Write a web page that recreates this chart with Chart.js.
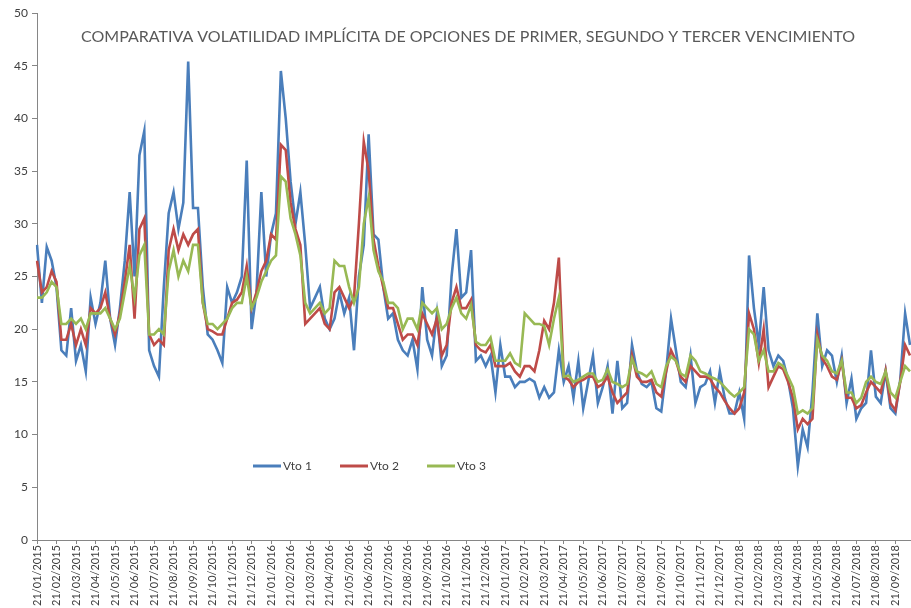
<!DOCTYPE html>
<html>
<head>
<meta charset="utf-8">
<script src="https://cdn.jsdelivr.net/npm/chart.js@4"></script>
<style>
    body { margin: 0; background: #ffffff; }
    #wrap { width: 911px; height: 608px; }
</style>
</head>
<body>
<div id="wrap"><canvas id="volChart" width="911" height="608"></canvas></div>
<script>
/*
    Implied volatility, 1st / 2nd / 3rd expiry. Four readings per month.
*/

//Months shown on the x axis (one label every 4 points)
const months = [
    "21/01/2015","21/02/2015","21/03/2015","21/04/2015","21/05/2015","21/06/2015","21/07/2015","21/08/2015","21/09/2015","21/10/2015","21/11/2015","21/12/2015",
    "21/01/2016","21/02/2016","21/03/2016","21/04/2016","21/05/2016","21/06/2016","21/07/2016","21/08/2016","21/09/2016","21/10/2016","21/11/2016","21/12/2016",
    "21/01/2017","21/02/2017","21/03/2017","21/04/2017","21/05/2017","21/06/2017","21/07/2017","21/08/2017","21/09/2017","21/10/2017","21/11/2017","21/12/2017",
    "21/01/2018","21/02/2018","21/03/2018","21/04/2018","21/05/2018","21/06/2018","21/07/2018","21/08/2018","21/09/2018"
];
const pointsPerMonth = 4;

const yTicks = [0, 5, 10, 15, 20, 25, 30, 35, 40, 45, 50];

const seriesNames = ["Vto 1", "Vto 2", "Vto 3"];
const seriesColors = ["#4A7EBB", "#BE4B48", "#98B954"];

//Vto 1
const vto1 = [
    28, 22.5, 27.8, 26.5, 24, 18, 17.5, 22, 17, 18.5, 16, 23,
    20.5, 22.5, 26.5, 21, 18.5, 22, 26.5, 33, 25, 36.5, 38.8, 18,
    16.5, 15.5, 24, 31, 33, 29.5, 32, 45.4, 31.5, 31.5, 24, 19.5,
    19, 18, 16.8, 24, 22.5, 23.5, 25, 36, 20, 23.5, 33, 25,
    29, 31, 44.5, 40, 34, 30, 33, 28, 22, 23, 24, 21,
    20, 21, 23.5, 21.5, 23, 18, 25, 28, 38.5, 29, 28.5, 24,
    21, 21.5, 19, 18, 17.5, 19, 16.2, 24, 19, 17.5, 21.5, 16.5,
    17.5, 25, 29.5, 23, 23.5, 27.5, 17, 17.5, 16.5, 17.5, 14, 18.5,
    15.5, 15.5, 14.5, 15, 15, 15.3, 15, 13.5, 14.5, 13.5, 14, 18,
    15, 16.5, 13.5, 17, 12.5, 15, 17.5, 13, 14.5, 16.5, 12, 17,
    12.5, 13, 18.5, 16, 14.8, 14.5, 15, 12.5, 12.2, 16, 21, 18,
    15, 14.5, 17.5, 13, 14.5, 14.8, 16, 13, 16, 13.5, 12, 12,
    14, 11.5, 27, 22, 18.5, 24, 18, 16.5, 17.5, 17, 15.2, 12.5,
    7, 10.5, 8.8, 14, 21.5, 16.5, 18, 17.5, 15, 17.5, 13, 15.3,
    11.5, 12.5, 13, 18, 13.6, 13, 16, 12.5, 12, 15.2, 21.5, 18.5
];

//Vto 2
const vto2 = [
    26.5, 23.5, 24, 25.5, 24.5, 19, 19, 20.5, 18.5, 20, 18.5, 22,
    21.5, 22, 23.5, 21, 19.5, 21.5, 24.5, 28, 21, 29.5, 30.5, 19.5,
    18.5, 19, 18.5, 27.5, 29.5, 27.5, 29, 28, 29, 29.5, 22.5, 20,
    19.8, 19.5, 19.5, 21, 22.5, 22.8, 23.5, 26, 22, 23.5, 25.5, 26.5,
    29, 28.5, 37.5, 37, 32, 29.5, 28, 20.5, 21, 21.5, 22, 20.5,
    20, 23.5, 24, 23, 22, 23, 30, 37.8, 35, 28.5, 26, 24,
    22, 22, 20.5, 19, 19.5, 19.5, 18.5, 21.5, 20.5, 19.5, 21, 17.5,
    18.5, 22.5, 24, 22, 22, 22.8, 18.5, 18, 17.8, 18.5, 16.5, 16.5,
    16.5, 16.8, 16, 15.5, 16.5, 16.5, 16, 18, 20.8, 20, 22.5, 26.8,
    15.5, 15.2, 14.5, 15, 15.2, 15.5, 15.5, 14.5, 14.8, 15.5, 14, 13,
    13.5, 14, 17.5, 15.5, 15, 15, 15.2, 14, 13.6, 16, 18, 17,
    15.5, 15, 16.5, 16, 15.5, 15.5, 15.3, 14.5, 14, 13.2, 12.5, 12,
    12.5, 14, 21.5, 20, 16.8, 20, 14.5, 15.5, 16.5, 16.2, 15, 13.5,
    10.5, 11.5, 11, 11.5, 19.5, 17.2, 16.5, 15.5, 15.2, 17, 13.5, 13.5,
    12.5, 12.8, 14, 15, 14.5, 14, 16.1, 13, 12.3, 15, 18.5, 17.5
];

//Vto 3
const vto3 = [
    23, 23, 23.5, 24.5, 24, 20.5, 20.5, 21, 20.5, 21, 20, 21.5,
    21.5, 21.5, 22, 21, 20, 21, 23.5, 26, 23, 27, 28, 19.5,
    19.5, 20, 19.5, 25.5, 27.5, 25, 26.5, 25.5, 28, 28, 22.5, 20.5,
    20.5, 20, 20.5, 21, 22, 22.5, 22.5, 25, 22, 23, 24.5, 25.5,
    26.5, 27, 34.5, 34, 30.5, 29, 27, 22.5, 21.5, 22, 22.5, 21.5,
    22, 26.5, 26, 26, 24, 22.5, 24, 30, 32.5, 27.5, 25.5, 24.5,
    22.5, 22.5, 22, 20, 21, 21, 20, 22.5, 22, 21.5, 22, 20,
    20.5, 22, 23, 21.5, 21, 22.3, 18.8, 18.5, 18.5, 19.2, 17, 17,
    17, 17.7, 16.8, 16.5, 21.5, 21, 20.5, 20.5, 20.3, 18.5, 21, 23,
    15.5, 15.6, 15, 15.2, 15.5, 15.8, 15.8, 15, 15.2, 16.2, 15, 14.8,
    14.5, 14.8, 17.2, 16, 15.8, 15.5, 16, 14.8, 14.5, 16.5, 17.4, 17,
    15.8, 15.5, 17.5, 17, 16, 15.8, 15.5, 15.3, 15, 14.5, 14, 13.6,
    14, 14.5, 20, 19.5, 17, 18, 16, 16, 16.8, 16.5, 15.5, 14.5,
    12, 12.3, 12, 12.5, 19, 17.5, 17, 16, 15.8, 17, 14, 14,
    13, 13.5, 15, 15.5, 15, 14.8, 16, 14, 13.5, 15, 16.5, 16
];

//One category per reading; only the first reading of each month gets a label
let pointLabels = vto1.map((v, i) => (i % pointsPerMonth === 0) ? (months[i / pointsPerMonth] || "") : "");

//Title and legend sit inside the plot area, as in the original sheet
const insideText = {
    id: "insideText",
    afterDraw(chart){
        let ctx = chart.ctx;
        ctx.save();
        ctx.fillStyle = "#595959";
        ctx.font = "16px Lato";
        ctx.textAlign = "center";
        ctx.textBaseline = "middle";
        ctx.fillText("COMPARATIVA VOLATILIDAD IMPLÍCITA DE OPCIONES DE PRIMER, SEGUNDO Y TERCER VENCIMIENTO", 468, 37);

        let lx = [253, 340, 427];
        ctx.font = "12px Lato";
        ctx.textAlign = "left";
        ctx.lineWidth = 3;
        seriesNames.forEach((name, i) => {
            ctx.strokeStyle = seriesColors[i];
            ctx.beginPath();
            ctx.moveTo(lx[i], 466);
            ctx.lineTo(lx[i] + 28, 466);
            ctx.stroke();
            ctx.fillStyle = "#404040";
            ctx.fillText(name, lx[i] + 30, 466);
        });
        ctx.restore();
    }
};

function makeDataset(i, d){
    return {
        label: seriesNames[i],
        data: d,
        borderColor: seriesColors[i],
        backgroundColor: seriesColors[i],
        borderWidth: 2.6,
        pointRadius: 0,
        tension: 0,
        fill: false,
        order: 3 - i,
    };
}

let volChart = new Chart("volChart", {
    type: "line",
    data: {
        labels: pointLabels,
        datasets: [makeDataset(0, vto1), makeDataset(1, vto2), makeDataset(2, vto3)],
    },
    options: {
        responsive: false,
        animation: false,
        layout: { padding: { top: 13, right: 1, left: 0, bottom: 0 } },
        plugins: {
            legend: { display: false },
            title: { display: false },
            tooltip: { enabled: false },
        },
        scales: {
            x: {
                type: "category",
                offset: false,
                afterFit(scale){ scale.height = 68; },
                border: { color: "#868686" },
                grid: { drawOnChartArea: false, drawTicks: true, tickLength: 4, color: "#868686" },
                ticks: {
                    autoSkip: false,
                    maxRotation: 90,
                    minRotation: 90,
                    padding: 1,
                    color: "#404040",
                    font: { family: "Lato", size: 11 },
                    callback: function(val, idx){
                        let l = this.getLabelForValue(val);
                        return l === "" ? null : l;
                    },
                },
            },
            y: {
                min: 0,
                max: 50,
                afterFit(scale){ scale.width = 37; },
                afterBuildTicks(scale){ scale.ticks = yTicks.map(v => ({ value: v })); },
                border: { color: "#868686" },
                grid: { drawOnChartArea: false, drawTicks: true, tickLength: 5, color: "#868686" },
                ticks: {
                    padding: 4,
                    color: "#404040",
                    font: { family: "Lato", size: 12 },
                },
            },
        },
    },
    plugins: [insideText],
});
</script>
</body>
</html>
